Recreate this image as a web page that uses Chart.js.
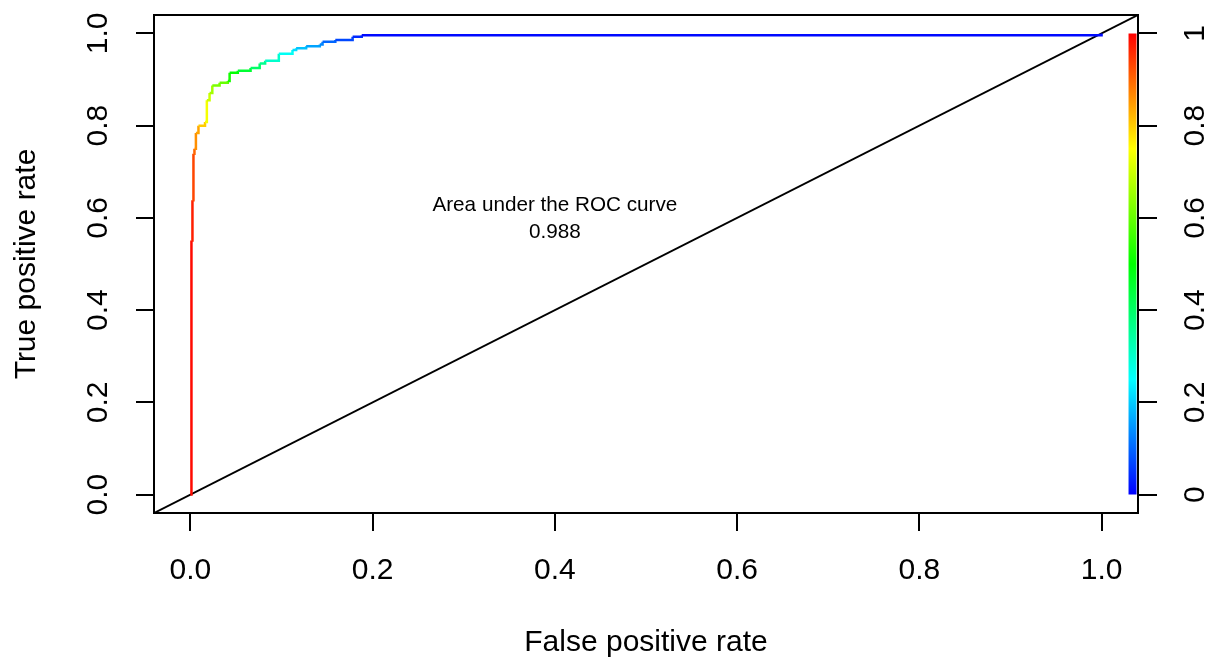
<!DOCTYPE html>
<html>
<head>
<meta charset="utf-8">
<script src="https://cdn.jsdelivr.net/npm/chart.js@4.4.1/dist/chart.umd.min.js"></script>
<style>
  body { margin: 0; background: #fff; }
  #wrap { width: 1210px; height: 661px; }
</style>
</head>
<body>
<div id="wrap"><canvas id="rocChart" width="1210" height="661"></canvas></div>
<script>
// ROC curve (stepped: each point ends a horizontal run)
const fpr = [0, 0.0011, 0.0022, 0.0033, 0.0044, 0.006, 0.0088, 0.016, 0.018, 0.021, 0.024,
  0.032, 0.041, 0.043, 0.052, 0.066, 0.076, 0.082, 0.097, 0.112, 0.116, 0.127, 0.142,
  0.145, 0.159, 0.178, 0.188, 1.0];
const tpr = [0, 0.551, 0.638, 0.739, 0.750, 0.784, 0.800, 0.808, 0.855, 0.871, 0.887,
  0.893, 0.897, 0.915, 0.919, 0.925, 0.935, 0.941, 0.956, 0.964, 0.968, 0.972, 0.976,
  0.982, 0.986, 0.993, 0.996, 1.0];
// cutoff at each point, from the curve colour
const cutoffs = [1.0, 0.99, 0.97, 0.93, 0.90, 0.86, 0.84, 0.80, 0.74, 0.70, 0.66,
  0.62, 0.60, 0.52, 0.50, 0.45, 0.40, 0.36, 0.30, 0.26, 0.22, 0.19, 0.16,
  0.13, 0.10, 0.07, 0.04, 0.01];

const axisTicks = [0, 0.2, 0.4, 0.6, 0.8, 1.0];
const cutoffTicks = [0, 0.2, 0.4, 0.6, 0.8, 1];
const diagonal = [-0.04, 1.04];
const colorbarX = 1.034;
const colorbarRange = [0, 1];
const aucText = ['Area under the ROC curve', '0.988'];
const aucPos = [0.4, 0.6];

const axisMin = -0.04, axisMax = 1.04;
const fontFamily = '"Liberation Sans", Arial, Helvetica, sans-serif';

function cutoffColor(c) {
  const hue = (1 - c) * 240;
  return `hsl(${hue}, 100%, 50%)`;
}

const rocPoints = fpr.map((x, i) => ({ x: x, y: tpr[i] }));
const diagPoints = diagonal.map(v => ({ x: v, y: v }));
const barPoints = colorbarRange.map(v => ({ x: colorbarX, y: v }));

function setTicks(values) {
  return function(scale) {
    scale.ticks = values.map(v => ({ value: v }));
  };
}

// fixed axis sizes, no extra room for overhanging labels
function fixSize(prop, size) {
  return function(scale) {
    scale[prop] = size;
    scale.paddingTop = 0;
    scale.paddingBottom = 0;
    scale.paddingLeft = 0;
    scale.paddingRight = 0;
  };
}

// plot frame + AUC text
const framePlugin = {
  id: 'frame',
  afterDatasetsDraw(chart) {
    const { ctx, chartArea, scales } = chart;
    ctx.save();
    ctx.strokeStyle = '#000';
    ctx.lineWidth = 2;
    ctx.strokeRect(chartArea.left, chartArea.top, chartArea.right - chartArea.left, chartArea.bottom - chartArea.top);

    ctx.fillStyle = '#000';
    ctx.font = '20.7px ' + fontFamily;
    ctx.textAlign = 'center';
    ctx.textBaseline = 'middle';
    const cx = scales.x.getPixelForValue(aucPos[0]);
    const cy = scales.y.getPixelForValue(aucPos[1]);
    ctx.fillText(aucText[0], cx, cy - 13);
    ctx.fillText(aucText[1], cx, cy + 14);
    ctx.restore();
  }
};

const tickFont = { family: fontFamily, size: 30 };

new Chart(document.getElementById('rocChart'), {
  type: 'scatter',
  data: {
    datasets: [
      {
        label: 'ROC',
        data: rocPoints,
        showLine: true,
        stepped: 'before',
        pointRadius: 0,
        borderWidth: 2.5,
        borderColor: cutoffColor(1),
        segment: {
          borderColor: ctx => cutoffColor(cutoffs[ctx.p1DataIndex])
        }
      },
      {
        label: 'diagonal',
        data: diagPoints,
        showLine: true,
        pointRadius: 0,
        borderWidth: 2,
        borderColor: '#000'
      },
      {
        label: 'cutoff bar',
        data: barPoints,
        showLine: true,
        pointRadius: 0,
        borderWidth: 8,
        borderCapStyle: 'butt',
        borderColor: function(context) {
          const chart = context.chart;
          const y = chart.scales.y;
          if (!chart.chartArea || !y) return 'red';
          const y0 = y.getPixelForValue(0), y1 = y.getPixelForValue(1);
          if (!isFinite(y0) || !isFinite(y1)) return 'red';
          const g = chart.ctx.createLinearGradient(0, y0, 0, y1);
          for (let i = 0; i <= 8; i++) {
            g.addColorStop(i / 8, cutoffColor(i / 8));
          }
          return g;
        }
      }
    ]
  },
  options: {
    responsive: false,
    devicePixelRatio: 1,
    animation: false,
    layout: { padding: { top: 15, left: 0, right: 0, bottom: 0 } },
    plugins: {
      legend: { display: false },
      tooltip: { enabled: false }
    },
    scales: {
      x: {
        type: 'linear',
        position: 'bottom',
        min: axisMin,
        max: axisMax,
        afterBuildTicks: setTicks(axisTicks),
        afterFit: fixSize('height', 148),
        grid: { drawOnChartArea: false, drawTicks: true, tickLength: 18, color: '#000', lineWidth: 2 },
        border: { display: true, color: '#000', width: 2 },
        ticks: {
          font: tickFont,
          color: '#000',
          padding: 22,
          maxRotation: 0,
          autoSkip: false,
          callback: v => v.toFixed(1)
        },
        title: {
          display: true,
          text: 'False positive rate',
          font: tickFont,
          color: '#000',
          padding: { top: 0, bottom: 0 }
        }
      },
      y: {
        type: 'linear',
        position: 'left',
        min: axisMin,
        max: axisMax,
        afterBuildTicks: setTicks(axisTicks),
        afterFit: fixSize('width', 154),
        grid: { drawOnChartArea: false, drawTicks: true, tickLength: 18, color: '#000', lineWidth: 2 },
        border: { display: true, color: '#000', width: 2 },
        ticks: {
          font: tickFont,
          color: '#000',
          padding: 16,
          minRotation: 90,
          maxRotation: 90,
          crossAlign: 'center',
          autoSkip: false,
          callback: v => v.toFixed(1)
        },
        title: {
          display: true,
          text: 'True positive rate',
          font: tickFont,
          color: '#000',
          padding: { top: 9, bottom: 0 }
        }
      },
      y2: {
        type: 'linear',
        position: 'right',
        min: axisMin,
        max: axisMax,
        afterBuildTicks: setTicks(cutoffTicks),
        afterFit: fixSize('width', 72),
        grid: { drawOnChartArea: false, drawTicks: true, tickLength: 19, color: '#000', lineWidth: 2 },
        border: { display: true, color: '#000', width: 2 },
        ticks: {
          font: tickFont,
          color: '#000',
          padding: 18,
          minRotation: 90,
          maxRotation: 90,
          crossAlign: 'center',
          autoSkip: false,
          callback: v => String(Math.round(v * 10) / 10)
        }
      }
    }
  },
  plugins: [framePlugin]
});
</script>
</body>
</html>
